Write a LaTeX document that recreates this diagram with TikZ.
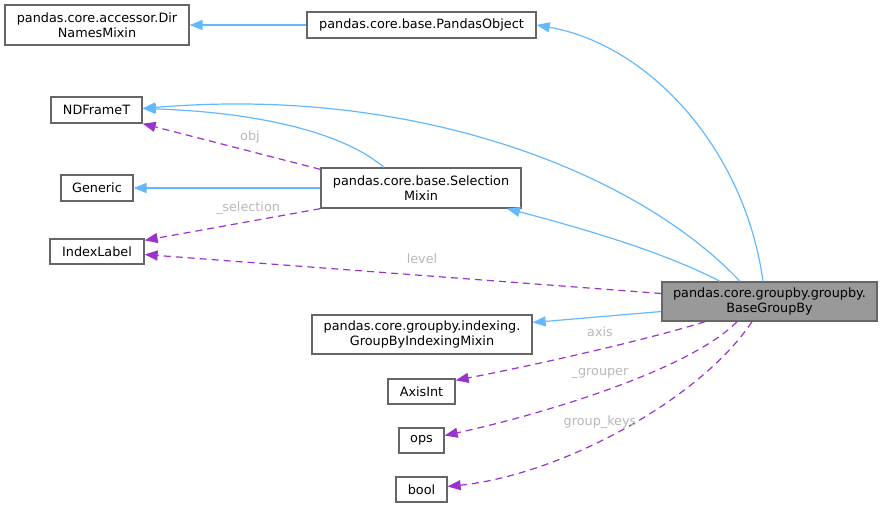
\documentclass[tikz,border=0pt]{standalone}
\usepackage{fontspec}
\setmainfont{DejaVu Sans}
\usetikzlibrary{arrows.meta}
\definecolor{inhc}{HTML}{63B8FF}
\definecolor{usec}{HTML}{9A32CD}
\definecolor{boxc}{HTML}{666666}
\definecolor{lblc}{HTML}{B8B8B8}
\begin{document}
\begin{tikzpicture}[x=1pt,y=-1pt,
  cls/.style={draw=boxc,line width=1.3pt,fill=white,inner sep=0pt,align=center,font=\fontsize{12.8}{14.5}\selectfont},
  inh/.style={draw=inhc,line width=1.2pt,-{Triangle[length=13pt,width=10pt]}},
  use/.style={draw=usec,line width=1.2pt,dash pattern=on 7pt off 5pt,-{Triangle[length=13pt,width=10pt]}},
  lbl/.style={text=lblc,font=\fontsize{12.8}{14.5}\selectfont,inner sep=0pt}]
\useasboundingbox (0,0) rectangle (883,509);
\node[cls,minimum width=184pt,minimum height=40pt] (dir) at (97,25) {pandas.core.accessor.Dir\\NamesMixin};
\node[cls,minimum width=229pt,minimum height=26pt] (pobj) at (421.5,25) {pandas.core.base.PandasObject};
\node[cls,minimum width=91pt,minimum height=26pt] (ndf) at (96.5,110) {NDFrameT};
\node[cls,minimum width=72pt,minimum height=26pt] (gen) at (97,188) {Generic};
\node[cls,minimum width=200pt,minimum height=40pt] (sel) at (421,188) {pandas.core.base.Selection\\Mixin};
\node[cls,minimum width=94pt,minimum height=25pt] (idx) at (97,251.5) {IndexLabel};
\node[cls,fill={rgb,255:red,153;green,153;blue,153},minimum width=215pt,minimum height=39pt] (bgb) at (769.5,301.5) {pandas.core.groupby.groupby.\\BaseGroupBy};
\node[cls,minimum width=220pt,minimum height=39pt] (gbim) at (422,334.5) {pandas.core.groupby.indexing.\\GroupByIndexingMixin};
\node[cls,minimum width=67pt,minimum height=25pt] (axis) at (421.5,391.5) {AxisInt};
\node[cls,minimum width=45pt,minimum height=25pt] (ops) at (421.5,440.5) {ops};
\node[cls,minimum width=51pt,minimum height=25pt] (bool) at (421.5,489.5) {bool};

\draw[inh] (pobj.west) -- (dir.east);
\draw[inh] ([xshift=-6.5pt]bgb.north) .. controls (745,150) and (650,45) .. (pobj.east);
\draw[inh] ([xshift=-29.5pt]bgb.north) .. controls (640,175) and (420,85) .. ([yshift=1.5pt]ndf.east);
\draw[inh] ([xshift=-37pt]sel.north) .. controls (340,130) and (250,112) .. ([yshift=1.5pt]ndf.east);
\draw[use] ([yshift=-2pt]sel.north west) -- (ndf.south east);
\draw[inh] (sel.west) -- (gen.east);
\draw[use] (sel.south west) -- ([yshift=-2pt]idx.north east);
\draw[inh] ([xshift=-49.5pt]bgb.north) .. controls (660,250) and (570,225) .. ([xshift=86pt]sel.south);
\draw[use] ([yshift=8pt]bgb.west) -- ([yshift=-3pt]idx.east);
\draw[inh] ([yshift=-10pt]bgb.west) -- ([yshift=12pt]gbim.east);
\draw[use] ([xshift=-64.5pt]bgb.south) .. controls (640,342) and (520,368) .. ([yshift=-2pt]axis.north east);
\draw[use] ([xshift=-32.5pt]bgb.south) .. controls (690,370) and (540,415) .. ([yshift=5pt]ops.east);
\draw[use] ([xshift=-17.5pt]bgb.south) .. controls (700,400) and (560,475) .. ([yshift=3pt]bool.east);

\node[lbl] (l1) at (250,137) {obj};
\node[lbl] (l2) at (248,208) {\_selection};
\node[lbl] (l3) at (422,259) {level};
\node[lbl] (l4) at (600,332) {axis};
\node[lbl] (l5) at (600,373) {\_grouper};
\node[lbl] (l6) at (600,422) {group\_keys};
\end{tikzpicture}
\end{document}
